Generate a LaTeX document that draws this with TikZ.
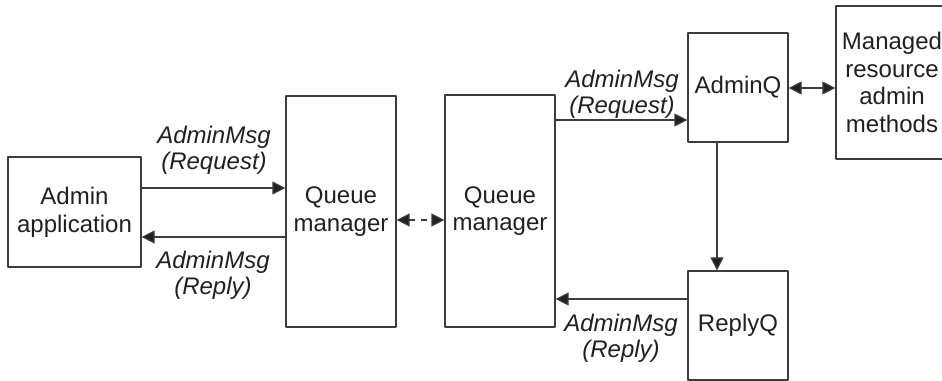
\documentclass[tikz,border=0pt]{standalone}
\usepackage{fontspec}
\setmainfont{Liberation Sans}
\usepackage{tikz}
\usetikzlibrary{arrows.meta}
\definecolor{linegray}{HTML}{3C3C3C}
\definecolor{inkblack}{HTML}{231F20}

\begin{document}
\begin{tikzpicture}[>={Triangle[length=6.5bp,width=6.5bp]},line join=bevel,
  box/.style={draw=linegray,line width=0.6bp,inner sep=0pt,align=center,text=inkblack,
    font=\fontsize{12bp}{13.8bp}\selectfont},
  msg/.style={inner sep=0pt,align=center,text=inkblack,
    font=\fontsize{12bp}{13bp}\selectfont\itshape},
  wire/.style={draw=linegray,line width=0.6bp,-{>[fill=inkblack]}},
  twoway/.style={draw=linegray,line width=0.6bp,{<[fill=inkblack]}-{>[fill=inkblack]}},
]
\useasboundingbox (0bp,0bp) rectangle (471bp,190.5bp);
%%
\node (node_0) at (37.25bp,84.5bp) [box,minimum width=66.5bp,minimum height=55bp] {Admin\\application};
  \node (node_1) at (170.5bp,84.75bp) [box,minimum width=55bp,minimum height=115.5bp] {Queue\\manager};
  \node (node_2) at (250bp,85bp) [box,minimum width=55bp,minimum height=116bp] {Queue\\manager};
  \node (node_3) at (369bp,146.75bp) [box,minimum width=50bp,minimum height=54.5bp] {AdminQ};
  \node (node_4) at (369bp,27.75bp) [box,minimum width=50bp,minimum height=54.5bp] {ReplyQ};
  \node (node_5) at (446bp,149.25bp) [box,minimum width=56bp,minimum height=76.5bp] {Managed\\resource\\admin\\methods};
%
  \node (msg_0) at (107bp,115.5bp) [msg] {AdminMsg\\(Request)};
  \node (msg_1) at (106.5bp,53bp) [msg] {AdminMsg\\(Reply)};
  \node (msg_2) at (311bp,143.5bp) [msg] {AdminMsg\\(Request)};
  \node (msg_3) at (310.5bp,21.5bp) [msg] {AdminMsg\\(Reply)};
%
  \draw [wire] (node_0.east |- 0,96.5bp) -- (node_1.west |- 0,96.5bp);
  \draw [wire] (node_1.west |- 0,72bp) -- (node_0.east |- 0,72bp);
  \draw [twoway,dash pattern=on 3bp off 3bp] (node_1.east |- 0,80.5bp) -- (node_2.west |- 0,80.5bp);
  \draw [wire] (node_2.east |- 0,130.5bp) -- (node_3.west |- 0,130.5bp);
  \draw [twoway] (node_3.east |- 0,146.5bp) -- (node_5.west |- 0,146.5bp);
  \draw [wire] (node_3.south -| 358.5bp,0) -- (node_4.north -| 358.5bp,0);
  \draw [wire] (node_4.west |- 0,41bp) -- (node_2.east |- 0,41bp);
%
\end{tikzpicture}
\end{document}
